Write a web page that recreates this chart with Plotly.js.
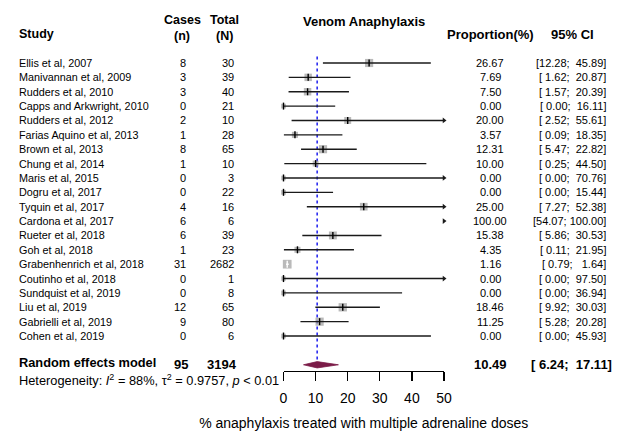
<!DOCTYPE html>
<html>
<head>
<meta charset="utf-8">
<script src="https://cdn.plot.ly/plotly-3.0.1.min.js"></script>
<style>
  html, body { margin: 0; padding: 0; background: #fff; }
  #chart { width: 624px; height: 433px; }
</style>
</head>
<body>
<div id="chart"></div>
<script>
// Forest plot: proportion of venom anaphylaxis treated with multiple adrenaline doses
const studies = [
  "Ellis et al, 2007", "Manivannan et al, 2009", "Rudders et al, 2010",
  "Capps and Arkwright, 2010", "Rudders et al, 2012", "Farias Aquino et al, 2013",
  "Brown et al, 2013", "Chung et al, 2014", "Maris et al, 2015", "Dogru et al, 2017",
  "Tyquin et al, 2017", "Cardona et al, 2017", "Rueter et al, 2018", "Goh et al, 2018",
  "Grabenhenrich et al, 2018", "Coutinho et al, 2018", "Sundquist et al, 2019",
  "Liu et al, 2019", "Gabrielli et al, 2019", "Cohen et al, 2019"
];
const cases  = [8, 3, 3, 0, 2, 1, 8, 1, 0, 0, 4, 6, 6, 1, 31, 0, 0, 12, 9, 0];
const totals = [30, 39, 40, 21, 10, 28, 65, 10, 3, 22, 16, 6, 39, 23, 2682, 1, 8, 65, 80, 6];
const props  = [26.67, 7.69, 7.50, 0.00, 20.00, 3.57, 12.31, 10.00, 0.00, 0.00,
                25.00, 100.00, 15.38, 4.35, 1.16, 0.00, 0.00, 18.46, 11.25, 0.00];
const ciLow  = [12.28, 1.62, 1.57, 0.00, 2.52, 0.09, 5.47, 0.25, 0.00, 0.00,
                7.27, 54.07, 5.86, 0.11, 0.79, 0.00, 0.00, 9.92, 5.28, 0.00];
const ciHigh = [45.89, 20.87, 20.39, 16.11, 55.61, 18.35, 22.82, 44.50, 70.76, 15.44,
                52.38, 100.00, 30.53, 21.95, 1.64, 97.50, 36.94, 30.03, 20.28, 45.93];
// random-effects study weights (%)
const weights = [6.9, 5.8, 5.8, 2.4, 5.0, 3.9, 6.9, 3.6, 2.2, 2.4,
                 6.1, 2.3, 6.5, 3.8, 7.9, 2.1, 2.3, 7.2, 7.0, 2.3];

const pooled = { label: "Random effects model", cases: 95, total: 3194, est: 10.49, lo: 6.24, hi: 17.11 };
const heterogeneity = "Heterogeneity: <i>I</i><sup>2</sup> = 88%, τ<sup>2</sup> = 0.9757, <i>p</i> &lt; 0.01";
const xTicks = [0, 10, 20, 30, 40, 50];
const xTitle = "% anaphylaxis treated with multiple adrenaline doses";
const plotTitle = "Venom Anaphylaxis";

// ---- layout geometry ----
const W = 624, H = 433;
const X_MIN = 0, X_MAX = 50;
const axLeft = 283.5, axRight = 444;     // pixel extent of the x axis
const axBottom = 371;                    // pixel row of the x axis line
const firstRowPx = 63, rowStep = 14.37;
const yTop = -firstRowPx / rowStep;
const yBottom = (axBottom - firstRowPx) / rowStep;
const pxPerUnit = (axRight - axLeft) / (X_MAX - X_MIN);
const rowOfPx = p => (p - firstRowPx) / rowStep;
const pxX = p => p / W;
const pxY = p => (H - p) / H;

const FONT = "Liberation Sans, Arial, Helvetica, sans-serif";
const pooledRow = 21;

const fmt2 = v => v.toFixed(2);
const pad = (s, n) => "\u00a0".repeat(Math.max(0, n - s.length)) + s;
const ciText = (lo, hi) => "[" + pad(fmt2(lo), 5) + "; " + pad(fmt2(hi), 6) + "]";

const rows = studies.map((_, i) => i);
const sizes = weights.map(w => Math.sqrt(w) * 3.1);

// confidence interval segments, clipped to the axis range
const blackX = [], blackY = [], whiteX = [], whiteY = [];
const arrowX = [], arrowY = [];
const sqX = [], sqY = [], sqS = [];
const tickX = [], tickY = [], wtickX = [], wtickY = [];
rows.forEach(i => {
  const lo = Math.max(ciLow[i], X_MIN), hi = Math.min(ciHigh[i], X_MAX);
  const inside = (ciHigh[i] - ciLow[i]) * pxPerUnit < sizes[i];
  if (ciHigh[i] > X_MAX) { arrowX.push(X_MAX); arrowY.push(i); }
  if (lo < hi) {
    if (inside) { whiteX.push(lo, hi, null); whiteY.push(i, i, null); }
    else { blackX.push(lo, hi, null); blackY.push(i, i, null); }
  }
  if (props[i] <= X_MAX) {
    sqX.push(props[i]); sqY.push(i); sqS.push(sizes[i]);
    if (inside) { wtickX.push(props[i]); wtickY.push(i); }
    else { tickX.push(props[i]); tickY.push(i); }
  }
});

const traces = [
  { // pooled estimate reference line
    x: [pooled.est, pooled.est], y: [-0.45, 20.65], mode: "lines",
    line: { color: "#2a2af0", width: 1.6, dash: "dot" }, hoverinfo: "skip"
  },
  { // study weights
    x: sqX, y: sqY, mode: "markers", cliponaxis: false,
    marker: { symbol: "square", size: sqS, color: "#9c9c9c", line: { width: 0 } }, hoverinfo: "skip"
  },
  {
    x: blackX, y: blackY, mode: "lines", line: { color: "#1a1a1a", width: 1.4 }, hoverinfo: "skip"
  },
  {
    x: whiteX, y: whiteY, mode: "lines", line: { color: "#ffffff", width: 1.4 }, hoverinfo: "skip"
  },
  {
    x: tickX, y: tickY, mode: "markers", cliponaxis: false,
    marker: { symbol: "line-ns", size: 5, line: { color: "#000", width: 1.4 } }, hoverinfo: "skip"
  },
  {
    x: wtickX, y: wtickY, mode: "markers", cliponaxis: false,
    marker: { symbol: "line-ns", size: 5, line: { color: "#fff", width: 1.4 } }, hoverinfo: "skip"
  },
  { // intervals running past the axis
    x: arrowX, y: arrowY, mode: "markers", cliponaxis: false,
    marker: { symbol: "triangle-right", size: 5, color: "#1a1a1a" }, hoverinfo: "skip"
  },
  { // pooled diamond
    x: [pooled.lo, pooled.est, pooled.hi, pooled.est, pooled.lo],
    y: [pooledRow, pooledRow - 0.22, pooledRow, pooledRow + 0.22, pooledRow],
    mode: "lines", fill: "toself", fillcolor: "#7b1c48",
    line: { color: "#7b1c48", width: 0.8 }, hoverinfo: "skip"
  }
];

// ---- text columns ----
const ann = [];
const txt = (text, xpx, y, anchor, size, bold, yanchor, yref) => ann.push({
  text: bold ? "<b>" + text + "</b>" : text,
  x: pxX(xpx), xref: "paper", y: y, yref: yref || "y",
  xanchor: anchor, yanchor: yanchor || "middle", showarrow: false, borderpad: 0,
  font: { family: FONT, size: size, color: "#000" }
});

const colStudy = 18, colCases = 187, colCasesHead = 182, colTotal = 235, colTotalHead = 224;
const colProp = 490, colCI = 607, colCIHead = 572;
const HEAD = 12.5, ROWNAME = 10.8, ROWNUM = 11;

txt("Study", colStudy, rowOfPx(34), "left", HEAD, true);
txt("Cases", colCasesHead, pxY(28), "center", HEAD, true, "bottom", "paper");
txt("(n)", colCasesHead, pxY(28), "center", HEAD, true, "top", "paper");
txt("Total", colTotalHead, pxY(28), "center", HEAD, true, "bottom", "paper");
txt("(N)", colTotalHead, pxY(28), "center", HEAD, true, "top", "paper");
txt(plotTitle, 364, rowOfPx(21), "center", 13, true);
txt("Proportion(%)", colProp, rowOfPx(34), "center", 13, true);
txt("95% CI", colCIHead, rowOfPx(34), "center", 13, true);

rows.forEach(i => {
  txt(studies[i], colStudy, i, "left", ROWNAME);
  txt(String(cases[i]), colCases, i, "right", ROWNUM);
  txt(String(totals[i]), colTotal, i, "right", ROWNUM);
  txt(fmt2(props[i]), colProp, i, "center", ROWNUM);
  txt(ciText(ciLow[i], ciHigh[i]), colCI, i, "right", ROWNUM);
});

// pooled row and heterogeneity line share a tight band above and below y = 371px
const POOL = 12.8;
txt(pooled.label, colStudy, pxY(371), "left", POOL, true, "bottom", "paper");
txt(String(pooled.cases), colCases + 2, pooledRow, "right", 13, true);
txt(String(pooled.total), 238, pooledRow, "right", 13, true);
txt(fmt2(pooled.est), colProp, pooledRow, "center", 13, true);
txt(ciText(pooled.lo, pooled.hi), 613, pooledRow, "right", 13, true);
txt(heterogeneity, colStudy, pxY(371), "left", POOL, false, "top", "paper");

const layout = {
  width: W, height: H,
  margin: { l: 0, r: 0, t: 0, b: 0 },
  paper_bgcolor: "#fff", plot_bgcolor: "#fff",
  showlegend: false,
  font: { family: FONT, color: "#000" },
  xaxis: {
    domain: [axLeft / W, axRight / W],
    range: [X_MIN, X_MAX], fixedrange: true,
    showgrid: false, zeroline: false,
    showline: true, linecolor: "#000", linewidth: 1.3,
    ticks: "outside", ticklen: 9, tickwidth: 1.3, tickcolor: "#000",
    ticklabelstandoff: 5,
    tickvals: xTicks, ticktext: xTicks.map(String),
    tickfont: { family: FONT, size: 14, color: "#000" },
    title: { text: xTitle, font: { family: FONT, size: 14, color: "#000" }, standoff: 13 }
  },
  yaxis: {
    domain: [(H - axBottom) / H, 1],
    range: [yBottom, yTop], visible: false, fixedrange: true
  },
  annotations: ann
};

Plotly.newPlot("chart", traces, layout, { staticPlot: true, displayModeBar: false });
</script>
</body>
</html>
